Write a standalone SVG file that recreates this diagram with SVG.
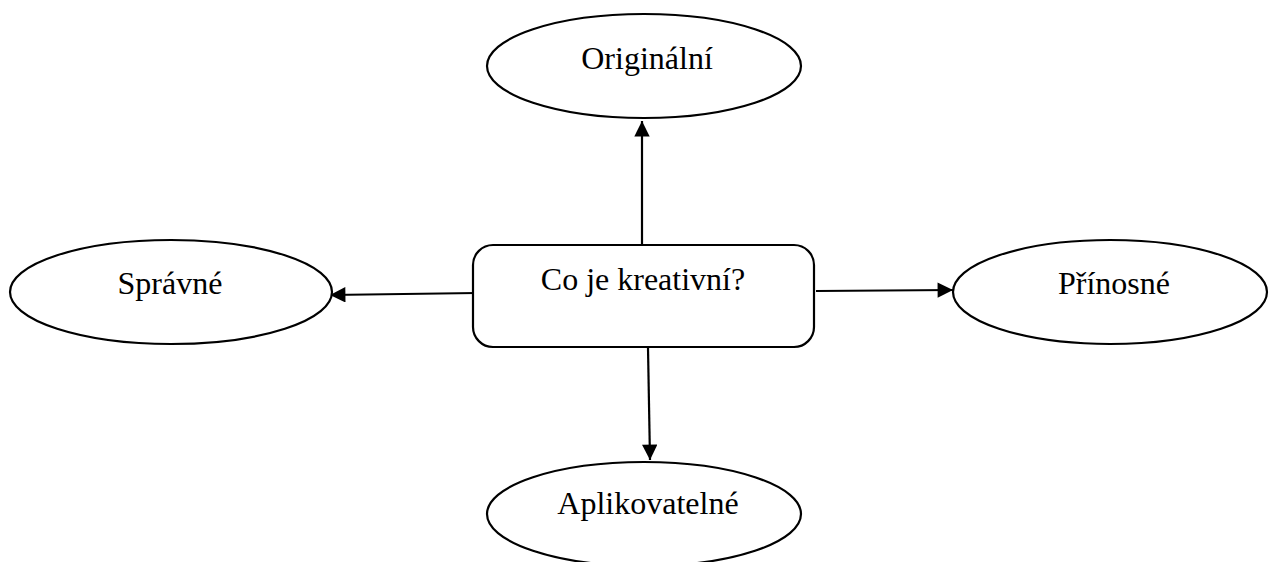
<svg xmlns="http://www.w3.org/2000/svg" width="1269" height="562" viewBox="0 0 1269 562">
<style>
.shape{fill:#fff;stroke:#000;stroke-width:2.2}
.lbl{font-family:"Liberation Serif","Times New Roman",serif;font-size:32px;fill:#000;text-anchor:middle}
.conn{stroke:#000;stroke-width:2.2;fill:none;marker-end:url(#arr)}
</style>
<defs>
<marker id="arr" viewBox="0 0 10 10" refX="10" refY="5" markerWidth="7.5" markerHeight="7" orient="auto" markerUnits="strokeWidth">
<path d="M0,0 L10,5 L0,10 z" fill="#000"/>
</marker>
</defs>
<rect width="1269" height="562" fill="#fff"/>
<g id="connectors">
<line class="conn" x1="642" y1="244" x2="642" y2="121"/>
<line class="conn" x1="477" y1="293" x2="330" y2="295"/>
<line class="conn" x1="816" y1="291" x2="953" y2="290"/>
<line class="conn" x1="648" y1="348" x2="650" y2="460"/>
</g>
<g id="center">
<rect class="shape" x="473" y="245" width="341" height="102" rx="20" ry="20"/>
<text class="lbl" x="643" y="290">Co je kreativní?</text>
</g>
<g id="originalni">
<ellipse class="shape" cx="644" cy="66" rx="157" ry="52"/>
<text class="lbl" x="647" y="69">Originální</text>
</g>
<g id="spravne">
<ellipse class="shape" cx="171" cy="292" rx="161" ry="52"/>
<text class="lbl" x="170" y="294">Správné</text>
</g>
<g id="prinosne">
<ellipse class="shape" cx="1110" cy="292" rx="157" ry="52"/>
<text class="lbl" x="1114" y="294">Přínosné</text>
</g>
<g id="aplikovatelne">
<ellipse class="shape" cx="644" cy="514" rx="157" ry="52"/>
<text class="lbl" x="648" y="514">Aplikovatelné</text>
</g>
</svg>
